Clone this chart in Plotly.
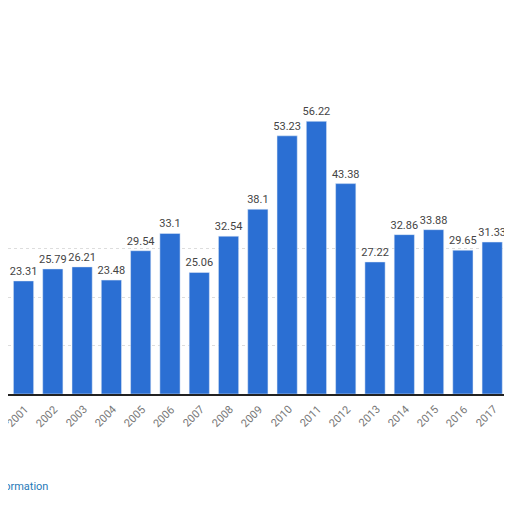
import plotly.graph_objects as go

years = [str(y) for y in range(2001, 2019)]
values = [23.31, 25.79, 26.21, 23.48, 29.54, 33.1, 25.06, 32.54, 38.1, 53.23, 56.22, 43.38, 27.22, 32.86, 33.88, 29.65, 31.33, 35.7]
idx = list(range(len(years)))

fig = go.Figure(go.Bar(
    x=idx, y=values, marker_color="#2b6fd3", width=0.69,
    text=[f"{v:g}" for v in values], textposition="outside", constraintext="none",
    textfont=dict(family="Roboto", size=11, color="#444"), cliponaxis=False,
))
fig.update_layout(
    width=512, height=512, margin=dict(l=0, r=0, t=95, b=126, autoexpand=False),
    paper_bgcolor="white", plot_bgcolor="white", showlegend=False,
    xaxis=dict(range=[-0.53, 16.95], tickvals=idx, showticklabels=False, showgrid=False,
               showline=True, linecolor="#222", linewidth=1.5, automargin=False),
    yaxis=dict(range=[0, 60], tickvals=[0, 10, 20, 30], showticklabels=False,
               gridcolor="#ddd", griddash="dot", zeroline=False, automargin=False),
)
fig.add_annotation(x=17, y=values[-1], yref="y", xref="x", text="35.7", showarrow=False,
                   yanchor="bottom", font=dict(family="Roboto", size=11, color="#444"))
for i, yr in zip(idx, years):
    fig.add_annotation(x=i, y=0, xref="x", yref="y", text=yr, showarrow=False, textangle=-45,
                       yshift=-22, xshift=-6, font=dict(family="Roboto", size=11, color="#777"))
fig.add_annotation(x=42/512, y=(386-478)/291, xref="paper", yref="paper", text="Additional Information",
                   showarrow=False, xanchor="right", yanchor="middle",
                   font=dict(family="Roboto", size=11, color="#1f7ab8"))
fig.add_annotation(x=504/512, y=(386-455)/291, xref="paper", yref="paper", text="©", showarrow=False,
                   xanchor="left", yanchor="middle", font=dict(size=11, color="#555"))
fig.write_html("out.html")
